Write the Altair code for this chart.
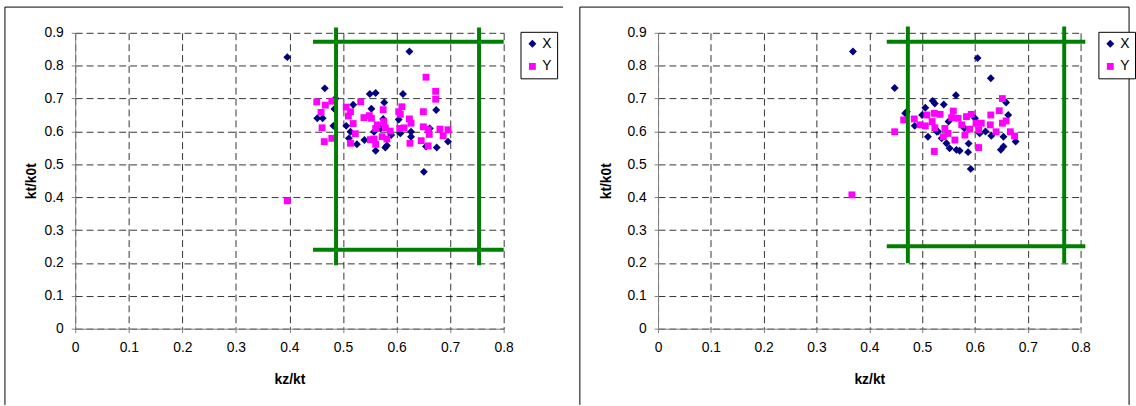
import altair as alt
import pandas as pd

# ---- tick values shared by both panels
x_ticks = [0, 0.1, 0.2, 0.3, 0.4, 0.5, 0.6, 0.7, 0.8]
y_ticks = [0, 0.1, 0.2, 0.3, 0.4, 0.5, 0.6, 0.7, 0.8, 0.9]
series_names = ["X", "Y"]
series_colors = ["#000080", "#FF00FF"]

# ---- left panel: series X (kz/kt, kt/k0t)
left_x_kz = [0.396, 0.624, 0.466, 0.550, 0.561, 0.612, 0.577, 0.486, 0.519, 0.553,
             0.674, 0.452, 0.462, 0.484, 0.482, 0.506, 0.575, 0.604, 0.627, 0.662,
             0.514, 0.511, 0.526, 0.540, 0.561, 0.579, 0.582, 0.590, 0.607, 0.627,
             0.655, 0.675, 0.696, 0.558, 0.570, 0.651]
left_x_kt = [0.826, 0.843, 0.731, 0.714, 0.717, 0.714, 0.688, 0.700, 0.681, 0.669,
             0.665, 0.640, 0.640, 0.668, 0.617, 0.617, 0.638, 0.636, 0.599, 0.609,
             0.599, 0.579, 0.561, 0.574, 0.541, 0.551, 0.557, 0.589, 0.594, 0.584,
             0.554, 0.551, 0.569, 0.599, 0.609, 0.477]

# ---- left panel: series Y
left_y_kz = [0.451, 0.459, 0.467, 0.479, 0.461, 0.465, 0.479, 0.506, 0.514, 0.510,
             0.533, 0.519, 0.523, 0.514, 0.539, 0.549, 0.553, 0.575, 0.564, 0.561,
             0.576, 0.579, 0.588, 0.573, 0.582, 0.558, 0.551, 0.561, 0.604, 0.610,
             0.607, 0.606, 0.624, 0.627, 0.614, 0.625, 0.650, 0.655, 0.673, 0.673,
             0.650, 0.659, 0.661, 0.646, 0.659, 0.681, 0.687, 0.696, 0.396]
left_y_kt = [0.690, 0.658, 0.680, 0.692, 0.611, 0.569, 0.579, 0.674, 0.660, 0.647,
             0.690, 0.624, 0.593, 0.564, 0.642, 0.648, 0.640, 0.666, 0.620, 0.609,
             0.630, 0.611, 0.601, 0.584, 0.577, 0.577, 0.575, 0.561, 0.660, 0.675,
             0.652, 0.609, 0.638, 0.625, 0.611, 0.564, 0.660, 0.765, 0.722, 0.698,
             0.614, 0.605, 0.591, 0.572, 0.556, 0.607, 0.587, 0.605, 0.389]

# ---- right panel: series X
right_x_kz = [0.369, 0.448, 0.605, 0.630, 0.564, 0.520, 0.524, 0.541, 0.506, 0.471,
              0.468, 0.659, 0.663, 0.486, 0.511, 0.528, 0.537, 0.546, 0.552, 0.565,
              0.571, 0.587, 0.588, 0.609, 0.631, 0.649, 0.654, 0.654, 0.677, 0.592,
              0.500, 0.550, 0.580, 0.620, 0.600, 0.530]
right_x_kt = [0.843, 0.732, 0.823, 0.762, 0.710, 0.693, 0.685, 0.682, 0.672, 0.660,
              0.655, 0.688, 0.650, 0.617, 0.584, 0.599, 0.579, 0.564, 0.549, 0.544,
              0.541, 0.537, 0.563, 0.594, 0.587, 0.544, 0.554, 0.584, 0.569, 0.486,
              0.650, 0.630, 0.610, 0.600, 0.640, 0.600]

# ---- right panel: series Y
right_y_kz = [0.448, 0.465, 0.485, 0.496, 0.506, 0.509, 0.523, 0.534, 0.519, 0.524,
              0.543, 0.540, 0.549, 0.559, 0.556, 0.568, 0.562, 0.523, 0.581, 0.590,
              0.584, 0.593, 0.602, 0.612, 0.607, 0.607, 0.630, 0.629, 0.640, 0.646,
              0.652, 0.659, 0.652, 0.667, 0.675, 0.575, 0.367]
right_y_kt = [0.599, 0.635, 0.638, 0.620, 0.617, 0.650, 0.655, 0.652, 0.630, 0.611,
              0.609, 0.584, 0.594, 0.662, 0.642, 0.640, 0.574, 0.539, 0.589, 0.607,
              0.645, 0.652, 0.625, 0.625, 0.605, 0.551, 0.650, 0.620, 0.599, 0.663,
              0.700, 0.632, 0.625, 0.599, 0.586, 0.620, 0.407]

# ---- green limit boxes: vertical lines (x, y from..to), horizontal lines (y, x from..to)
left_box_vx = [0.487, 0.754]
left_box_vy = [0.193, 0.916]
left_box_hy = [0.240, 0.873]
left_box_hx = [0.444, 0.800]

right_box_vx = [0.473, 0.769]
right_box_vy = [0.199, 0.919]
right_box_hy = [0.251, 0.873]
right_box_hx = [0.433, 0.809]

GREEN = "#008000"
FONT = "Liberation Sans"


def panel(x_kz, x_kt, y_kz, y_kt, vx, vy, hy, hx, width, height,
          ytitle_pad, legend_x, frame_left, frame_right, frame_bottom):
    assert len(x_kz) == len(x_kt) and len(y_kz) == len(y_kt)
    pts = pd.DataFrame({
        "kz": list(x_kz) + list(y_kz),
        "kt": list(x_kt) + list(y_kt),
        "series": ["X"] * len(x_kz) + ["Y"] * len(y_kz),
    })

    xscale = alt.Scale(domain=[0, 0.8], nice=False, zero=False)
    yscale = alt.Scale(domain=[0, 0.9], nice=False, zero=False)
    xaxis = alt.Axis(values=x_ticks, format="~g", labelOverlap=False,
                     labelFlush=False)
    yaxis = alt.Axis(values=y_ticks, format="~g", labelOverlap=False,
                     labelFlush=False, titlePadding=ytitle_pad)
    legend = alt.Legend(orient="none", legendX=legend_x, legendY=-1,
                        strokeColor="black", fillColor="white", padding=5,
                        labelFont=FONT, labelFontSize=14, labelColor="black",
                        symbolSize=45, rowPadding=9, labelOffset=3,
                        symbolStrokeWidth=0)

    points = alt.Chart(pts).mark_point(filled=True, opacity=1).encode(
        x=alt.X("kz:Q", scale=xscale, title="kz/kt", axis=xaxis),
        y=alt.Y("kt:Q", scale=yscale, title="kt/k0t", axis=yaxis),
        color=alt.Color("series:N", title=None,
                        scale=alt.Scale(domain=series_names, range=series_colors),
                        legend=legend),
        shape=alt.Shape("series:N", title=None,
                        scale=alt.Scale(domain=series_names,
                                        range=["diamond", "square"]),
                        legend=legend),
        size=alt.Size("series:N",
                      scale=alt.Scale(domain=series_names, range=[64, 48]),
                      legend=None),
    )

    vlines = alt.Chart(pd.DataFrame({
        "x": vx, "y": [vy[0]] * len(vx), "y2": [vy[1]] * len(vx)})
    ).mark_rule(color=GREEN, strokeWidth=4).encode(
        x=alt.X("x:Q", scale=xscale, title="kz/kt", axis=xaxis),
        y=alt.Y("y:Q", scale=yscale, title="kt/k0t", axis=yaxis),
        y2="y2:Q")

    hlines = alt.Chart(pd.DataFrame({
        "y": hy, "x": [hx[0]] * len(hy), "x2": [hx[1]] * len(hy)})
    ).mark_rule(color=GREEN, strokeWidth=4).encode(
        y=alt.Y("y:Q", scale=yscale, title="kt/k0t", axis=yaxis),
        x=alt.X("x:Q", scale=xscale, title="kz/kt", axis=xaxis),
        x2="x2:Q")

    # chart-area border (left, top and, where shown, right edges)
    one = pd.DataFrame({"edge": [0]})
    frame = [
        alt.Chart(one).mark_rule(color="black", strokeWidth=1).encode(
            x=alt.value(frame_left), y=alt.value(-26), y2=alt.value(frame_bottom)),
        alt.Chart(one).mark_rule(color="black", strokeWidth=1).encode(
            x=alt.value(frame_left), x2=alt.value(frame_right), y=alt.value(-26)),
    ]
    if frame_right < width + 60:
        frame.append(alt.Chart(one).mark_rule(color="black", strokeWidth=1).encode(
            x=alt.value(frame_right), y=alt.value(-26), y2=alt.value(frame_bottom)))

    return alt.layer(points, vlines, hlines, *frame).properties(
        width=width, height=height)


left = panel(left_x_kz, left_x_kt, left_y_kz, left_y_kt,
             left_box_vx, left_box_vy, left_box_hy, left_box_hx,
             width=433, height=299, ytitle_pad=6, legend_x=450,
             frame_left=-71, frame_right=493, frame_bottom=376)
right = panel(right_x_kz, right_x_kt, right_y_kz, right_y_kt,
              right_box_vx, right_box_vy, right_box_hy, right_box_hx,
              width=427, height=299, ytitle_pad=14, legend_x=445,
              frame_left=-79, frame_right=476, frame_bottom=376)

chart = alt.hconcat(left, right, spacing=15).resolve_scale(
    color="independent", shape="independent", size="independent",
    x="independent", y="independent"
).resolve_legend(
    color="independent", shape="independent", size="independent"
).properties(
    padding={"left": 4, "top": 4, "right": 0, "bottom": 0},
    background="white",
).configure_view(
    strokeWidth=0
).configure_axis(
    grid=True, gridColor="black", gridDash=[7, 4], gridOpacity=0.8, gridWidth=1,
    domainColor="#808080", tickColor="#808080", tickSize=4,
    labelFont=FONT, labelFontSize=14, labelColor="black", labelPadding=8,
    titleFont=FONT, titleFontSize=14, titleFontWeight="bold", titleColor="black",
).configure_axisX(
    titlePadding=18,
)

chart.save("out.html", embed_options={"renderer": "svg", "actions": False})
